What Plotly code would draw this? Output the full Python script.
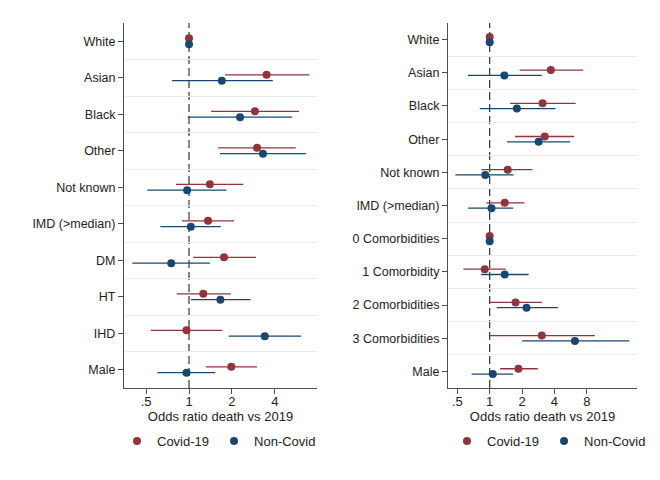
import math
import plotly.graph_objects as go

# ---------------- data ----------------
left_labels = ["White", "Asian", "Black", "Other", "Not known", "IMD (>median)",
               "DM", "HT", "IHD", "Male"]
left_covid_or = [1.0, 3.5, 2.9, 3.0, 1.40, 1.36, 1.76, 1.26, 0.96, 1.98]
left_covid_lo = [1.0, 1.79, 1.43, 1.6, 0.81, 0.89, 1.07, 0.82, 0.54, 1.31]
left_covid_hi = [1.0, 7.0, 5.9, 5.6, 2.4, 2.07, 2.95, 1.96, 1.71, 3.0]
left_non_or = [1.0, 1.70, 2.28, 3.3, 0.97, 1.03, 0.75, 1.66, 3.4, 0.96]
left_non_lo = [1.0, 0.76, 0.98, 1.65, 0.51, 0.63, 0.40, 1.03, 1.9, 0.60]
left_non_hi = [1.0, 3.87, 5.3, 6.6, 1.83, 1.67, 1.40, 2.7, 6.1, 1.53]

right_labels = ["White", "Asian", "Black", "Other", "Not known", "IMD (>median)",
                "0 Comorbidities", "1 Comorbidity", "2 Comorbidities",
                "3 Comorbidities", "Male"]
right_covid_or = [1.0, 3.7, 3.1, 3.25, 1.47, 1.38, 1.0, 0.90, 1.74, 3.05, 1.85]
right_covid_lo = [1.0, 1.9, 1.55, 1.72, 0.84, 0.93, 1.0, 0.57, 1.0, 1.0, 1.25]
right_covid_hi = [1.0, 7.4, 6.3, 6.1, 2.5, 2.1, 1.0, 1.41, 3.07, 9.5, 2.8]
right_non_or = [1.0, 1.37, 1.79, 2.85, 0.91, 1.04, 1.0, 1.38, 2.2, 6.2, 1.07]
right_non_lo = [1.0, 0.63, 0.81, 1.45, 0.48, 0.63, 1.0, 0.83, 1.16, 2.0, 0.68]
right_non_hi = [1.0, 3.05, 4.1, 5.6, 1.67, 1.66, 1.0, 2.3, 4.3, 19.8, 1.65]

left_ticks = [0.5, 1, 2, 4]
left_ticktext = [".5", "1", "2", "4"]
right_ticks = [0.5, 1, 2, 4, 8]
right_ticktext = [".5", "1", "2", "4", "8"]

series_names = ["Covid-19", "Non-Covid"]
axis_title = "Odds ratio death vs 2019"
COL_COVID = "#90353b"
COL_NON = "#1a476f"
FONT = "Liberation Sans, Arial, sans-serif"
AX = "#4d4d4d"

fig = go.Figure()


def add_panel(labels, ors, los, his, xa, ya, legend):
    n = len(labels)
    for k, (o, lo, hi, col, name) in enumerate(zip(ors, los, his, [COL_COVID, COL_NON], series_names)):
        off = -0.08 if k == 0 else 0.08
        ys = [i + off for i in range(n)]
        fig.add_trace(go.Scatter(
            x=o, y=ys, mode="markers", name=name,
            marker=dict(color=col, size=8, line=dict(width=0)),
            error_x=dict(type="data", symmetric=False,
                         array=[h - v for h, v in zip(hi, o)],
                         arrayminus=[v - l for v, l in zip(o, lo)],
                         color=col, thickness=1.3, width=0),
            xaxis=xa, yaxis=ya, legend=legend, hoverinfo="skip"))


add_panel(left_labels, [left_covid_or, left_non_or], [left_covid_lo, left_non_lo],
          [left_covid_hi, left_non_hi], "x", "y", "legend")
add_panel(right_labels, [right_covid_or, right_non_or], [right_covid_lo, right_non_lo],
          [right_covid_hi, right_non_hi], "x2", "y2", "legend2")

xcommon = dict(type="log", showgrid=False, zeroline=False, showline=True,
               linecolor=AX, linewidth=1.2, ticks="outside", ticklen=5,
               tickcolor=AX, tickfont=dict(size=13, color="#222"),
               ticklabelstandoff=-4,
               title=dict(text=axis_title,
                          font=dict(size=13, color="#222"), standoff=0),
               mirror=False)
ycommon = dict(showgrid=False, zeroline=False, showline=True, linecolor=AX,
               linewidth=1.2, ticks="outside", ticklen=5, tickcolor=AX,
               tickfont=dict(size=12.5, color="#222"))

fig.update_layout(
    width=660, height=480,
    margin=dict(l=0, r=0, t=0, b=0),
    paper_bgcolor="white", plot_bgcolor="white",
    font=dict(family=FONT, color="#222"),
    xaxis=dict(xcommon, domain=[124 / 660, 317 / 660], anchor="y",
               range=[math.log10(0.35), math.log10(7.9)],
               tickvals=left_ticks, ticktext=left_ticktext),
    yaxis=dict(ycommon, domain=[1 - 388 / 480, 1 - 23 / 480], anchor="x",
               range=[len(left_labels) - 0.5, -0.5],
               tickvals=list(range(len(left_labels))), ticktext=left_labels,
               minor=dict(tickvals=[i + 0.5 for i in range(len(left_labels) - 1)],
                          showgrid=True, gridcolor="#e8edef", gridwidth=1, ticklen=0)),
    xaxis2=dict(xcommon, domain=[448 / 660, 637 / 660], anchor="y2",
                range=[math.log10(0.41), math.log10(23.4)],
                tickvals=right_ticks, ticktext=right_ticktext),
    yaxis2=dict(ycommon, domain=[1 - 388 / 480, 1 - 23 / 480], anchor="x2",
                range=[len(right_labels) - 0.5, -0.5],
                tickvals=list(range(len(right_labels))), ticktext=right_labels,
                minor=dict(tickvals=[i + 0.5 for i in range(len(right_labels) - 1)],
                           showgrid=True, gridcolor="#e8edef", gridwidth=1, ticklen=0)),
    legend=dict(orientation="h", x=219 / 660, xanchor="center", y=1 - 441 / 480,
                yanchor="middle", font=dict(size=13), itemwidth=30,
                bgcolor="rgba(0,0,0,0)"),
    legend2=dict(orientation="h", x=549 / 660, xanchor="center", y=1 - 441 / 480,
                 yanchor="middle", font=dict(size=13), itemwidth=30,
                 bgcolor="rgba(0,0,0,0)"),
)

for xr, yr in [("x", "y domain"), ("x2", "y2 domain")]:
    fig.add_shape(type="line", xref=xr, yref=yr, x0=1, x1=1, y0=0, y1=1,
                  line=dict(color="#333", width=1.2, dash="8px,4px"), layer="below")

fig.write_html("out.html", config={"displayModeBar": False},
               post_script="document.body.style.margin='0';document.body.style.overflow='hidden';")
